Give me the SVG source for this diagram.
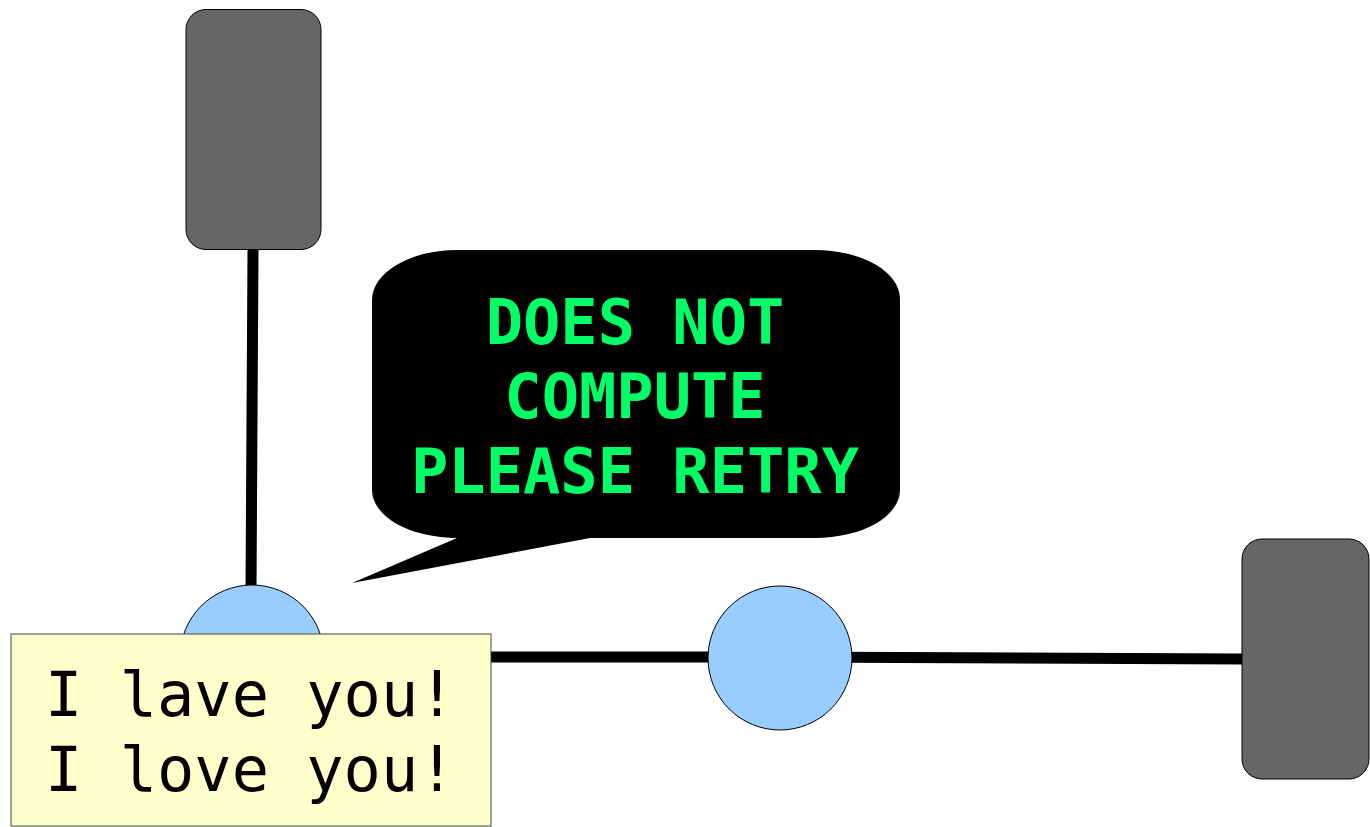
<svg xmlns="http://www.w3.org/2000/svg" width="1370" height="827" viewBox="0 0 1370 827">
<style>
.box{fill:#666666;stroke:#000;stroke-width:1}
.node{fill:#99ccff;stroke:#000;stroke-width:1}
.conn{stroke:#000;stroke-width:11;fill:none}
.green{font-family:"DejaVu Sans Mono","Liberation Mono",monospace;font-weight:bold;font-size:62px;fill:#00ff66;text-anchor:middle}
.note{font-family:"DejaVu Sans Mono","Liberation Mono",monospace;font-size:62px;fill:#000}
</style>
<rect width="1370" height="827" fill="#ffffff"/>
<g id="connectors">
<line class="conn" x1="253" y1="250" x2="251" y2="590"/>
<line class="conn" x1="252" y1="657" x2="780" y2="657"/>
<line class="conn" x1="780" y1="657" x2="1243" y2="659"/>
</g>
<g id="top-box"><rect class="box" x="186" y="9.5" width="135" height="240" rx="20" ry="20"/></g>
<g id="right-box"><rect class="box" x="1242" y="539" width="127" height="240" rx="20" ry="20"/></g>
<g id="node-1"><circle class="node" cx="252" cy="657" r="72"/></g>
<g id="node-2"><circle class="node" cx="780" cy="658" r="72"/></g>
<g id="speech-bubble">
<path d="M457,538 L352,583 L590,538 L815,538 A85,48 0 0 0 900,490 L900,299 A85,49 0 0 0 815,250 L457,250 A85,50 0 0 0 372,300 L372,490 A85,48 0 0 0 457,538 Z" fill="#000"/>
<text class="green" x="635" y="344">DOES NOT</text>
<text class="green" x="635" y="418">COMPUTE</text>
<text class="green" x="635" y="493">PLEASE RETRY</text>
</g>
<g id="note">
<rect x="11" y="634" width="480" height="192" fill="#ffffcc" stroke="#444" stroke-width="1"/>
<text class="note" x="45" y="716">I lave you!</text>
<text class="note" x="45" y="791">I love you!</text>
</g>
</svg>
